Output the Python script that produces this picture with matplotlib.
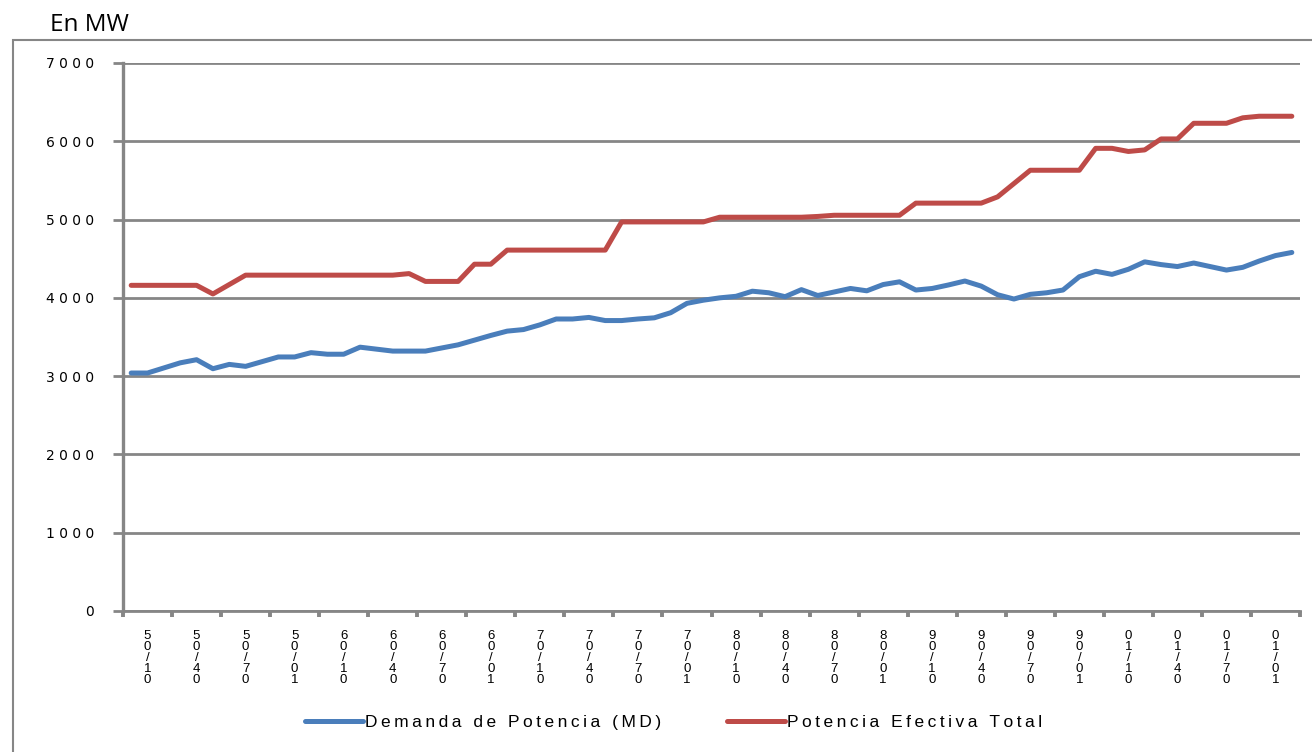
import matplotlib
matplotlib.use('Agg')
import matplotlib.pyplot as plt
from matplotlib.patches import Rectangle
from matplotlib.lines import Line2D

# monthly values, Jan 2005 - Dec 2010 (MW)
demanda = [3040, 3040, 3105, 3170, 3210, 3095, 3150, 3125, 3185, 3245, 3245, 3300,
           3280, 3280, 3370, 3345, 3320, 3320, 3320, 3360, 3400, 3460, 3520, 3575,
           3595, 3655, 3730, 3730, 3750, 3710, 3710, 3730, 3745, 3810, 3930, 3970,
           4000, 4020, 4085, 4065, 4015, 4105, 4030, 4075, 4120, 4090, 4170, 4205,
           4100, 4120, 4165, 4215, 4150, 4040, 3985, 4045, 4065, 4100, 4270, 4340,
           4300, 4365, 4460, 4425, 4400, 4445, 4400, 4355, 4390, 4470, 4540, 4580]

potencia = [4160, 4160, 4160, 4160, 4160, 4050, 4170, 4290, 4290, 4290, 4290, 4290,
            4290, 4290, 4290, 4290, 4290, 4310, 4210, 4210, 4210, 4430, 4430, 4610,
            4610, 4610, 4610, 4610, 4610, 4610, 4970, 4970, 4970, 4970, 4970, 4970,
            5030, 5030, 5030, 5030, 5030, 5030, 5040, 5055, 5055, 5055, 5055, 5055,
            5210, 5210, 5210, 5210, 5210, 5290, 5460, 5630, 5630, 5630, 5630, 5910,
            5910, 5870, 5890, 6030, 6030, 6230, 6230, 6230, 6300, 6320, 6320, 6320]

tick_labels = ['01/05', '04/05', '07/05', '10/05', '01/06', '04/06', '07/06', '10/06',
               '01/07', '04/07', '07/07', '10/07', '01/08', '04/08', '07/08', '10/08',
               '01/09', '04/09', '07/09', '10/09', '01/10', '04/10', '07/10', '10/10']

y_ticks = [0, 1000, 2000, 3000, 4000, 5000, 6000, 7000]

grey = '#868686'
blue = '#4A7EBB'
red = '#BE4B48'
plt.rcParams['font.family'] = ['Liberation Sans', 'DejaVu Sans']

fig = plt.figure(figsize=(13.12, 7.52), dpi=100)
ax = fig.add_axes([123 / 1312, 141 / 752, 1177 / 1312, 548 / 752])

x = list(range(len(demanda)))
ax.plot(x, demanda, color=blue, lw=3.6, solid_joinstyle='round', solid_capstyle='round',
        label='Demanda de Potencia (MD)', zorder=3)
ax.plot(x, potencia, color=red, lw=3.6, solid_joinstyle='round', solid_capstyle='round',
        label='Potencia Efectiva Total', zorder=3)

ax.set_xlim(-0.5, len(demanda) - 0.5)
ax.set_ylim(0, 7000)

# y axis
ax.set_yticks(y_ticks)
ax.set_yticklabels([' '.join(str(v)) for v in y_ticks], fontsize=10,
                   family='DejaVu Sans')
ax.yaxis.grid(True, color=grey, lw=2.0)
ax.set_axisbelow(True)
ax.tick_params(axis='y', length=7, width=2.0, color=grey, pad=14, direction='out')

# x axis: boundary ticks every 3 months, stacked labels in the middle
ax.set_xticks([i * 3 - 0.5 for i in range(len(tick_labels) + 1)])
ax.set_xticklabels([])
ax.tick_params(axis='x', which='major', length=4, width=2.8, color=grey, direction='out')
ax.set_xticks([i * 3 + 1 for i in range(len(tick_labels))], minor=True)
ax.set_xticklabels(['\n'.join(reversed(lbl)) for lbl in tick_labels], minor=True,
                   fontsize=9.5, linespacing=0.88, va='top')
ax.tick_params(axis='x', which='minor', length=0, pad=14)

for s in ['top', 'right']:
    ax.spines[s].set_visible(False)
ax.spines['left'].set_color(grey)
ax.spines['left'].set_linewidth(2.4)
ax.spines['bottom'].set_color(grey)
ax.spines['bottom'].set_linewidth(2.0)

# outer chart frame
fig.patches.append(Rectangle((13 / 1312, -0.1), 1.2, (752 - 40) / 752 + 0.1,
                             transform=fig.transFigure, fill=False,
                             edgecolor=grey, lw=1.5))

fig.text(50 / 1312, 1 - 31 / 752, 'En MW', fontsize=17.5, va='baseline', ha='left',
         family=['Open Sans', 'DejaVu Sans'])

handles = [Line2D([], [], color=blue, lw=3.6, solid_capstyle='round'),
           Line2D([], [], color=red, lw=3.6, solid_capstyle='round')]
names = ['\u2009'.join('Demanda de Potencia (MD)'), '\u2009'.join('Potencia Efectiva Total')]
fig.legend(handles, names, loc='center', bbox_to_anchor=(674 / 1312, 30 / 752), ncol=2,
           frameon=False, handlelength=3.3, handletextpad=0.15, columnspacing=3.8,
           prop={'size': 12.5})

fig.savefig('out.png', dpi=100)
